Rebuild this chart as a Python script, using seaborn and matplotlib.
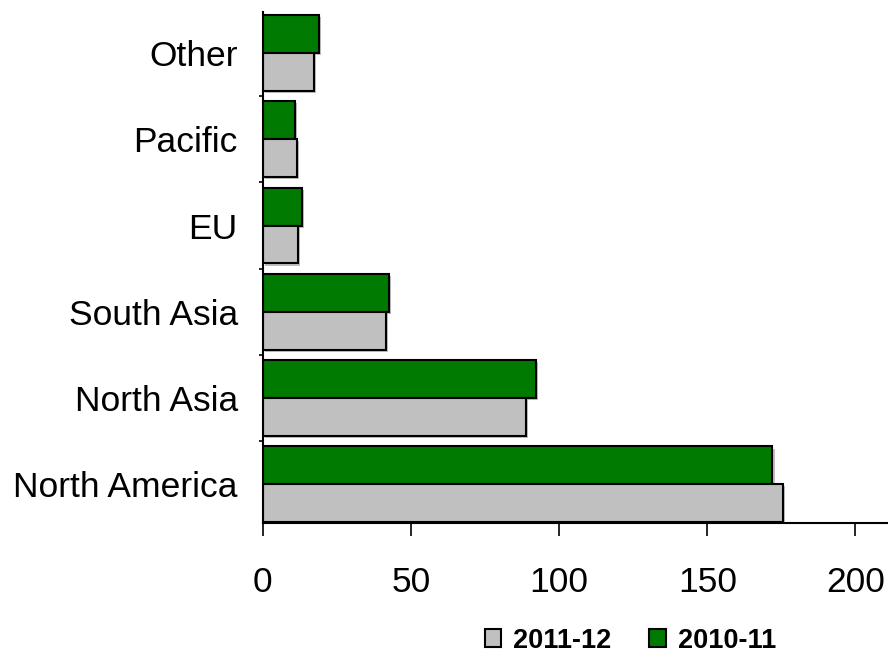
"""
Horizontal grouped bars by region, 2010-11 vs 2011-12.
"""
import matplotlib
matplotlib.use("Agg")
import matplotlib.pyplot as plt
import matplotlib.patheffects as pe
from matplotlib.patches import Patch
import seaborn as sns
import pandas as pd

sns.set_theme(style="white")
plt.rcParams["font.family"] = ["Liberation Sans", "DejaVu Sans"]
plt.rcParams["text.color"] = "black"

regions = ["Other", "Pacific", "EU", "South Asia", "North Asia", "North America"]
values_2010_11 = [18.9, 10.8, 13.2, 42.6, 92.2, 172.0]
values_2011_12 = [17.2, 11.5, 11.8, 41.6, 88.9, 175.7]

COLORS = {"2010-11": "#007A00", "2011-12": "#C0C0C0"}

df = pd.DataFrame({
    "region": regions * 2,
    "value": values_2010_11 + values_2011_12,
    "year": ["2010-11"] * len(regions) + ["2011-12"] * len(regions),
})

fig = plt.figure(figsize=(8.88, 6.59), dpi=100)
ax = fig.add_axes([0.296, 0.206, 0.704, 0.776])

sns.barplot(data=df, x="value", y="region", hue="year", orient="h",
            order=regions, hue_order=["2010-11", "2011-12"],
            palette=COLORS, saturation=1, width=0.88,
            edgecolor="black", linewidth=1.5, legend=False, ax=ax)

for bar in ax.patches:
    bar.set_path_effects([
        pe.SimplePatchShadow(offset=(1.5, -1.5), shadow_rgbFace="#808080", alpha=0.5),
        pe.Normal(),
    ])

ax.set_xlim(0, 211)
ax.set_ylim(5.45, -0.476)
ax.set_xticks([0, 50, 100, 150, 200])
ax.set_xlabel("")
ax.set_ylabel("")

for side in ["top", "right"]:
    ax.spines[side].set_visible(False)
for side in ["left", "bottom"]:
    ax.spines[side].set_color("black")
    ax.spines[side].set_linewidth(1.5)

ax.tick_params(axis="x", which="major", direction="out", length=9, width=1.2,
               color="black", labelsize=25.5, pad=22, bottom=True)
ax.tick_params(axis="y", which="major", length=0, labelsize=25.5, pad=18)
ax.set_yticks([0.5, 1.5, 2.5, 3.5, 4.5], minor=True)
ax.tick_params(axis="y", which="minor", direction="out", length=3, width=1.2,
               color="black", left=True)
for lbl in ax.get_xticklabels() + ax.get_yticklabels():
    lbl.set_color("black")

handles = [
    Patch(facecolor=COLORS["2011-12"], edgecolor="black", linewidth=1.5, label="2011-12"),
    Patch(facecolor=COLORS["2010-11"], edgecolor="black", linewidth=1.5, label="2010-11"),
]
leg = fig.legend(handles=handles, loc="center", bbox_to_anchor=(0.71, 0.028), ncol=2,
                 frameon=False, prop={"size": 19.5, "weight": "bold"},
                 handlelength=0.6, handleheight=0.6, handletextpad=0.45,
                 columnspacing=1.4)
for t in leg.get_texts():
    t.set_color("black")

fig.savefig("out.png", dpi=100, facecolor="white")
plt.close(fig)
